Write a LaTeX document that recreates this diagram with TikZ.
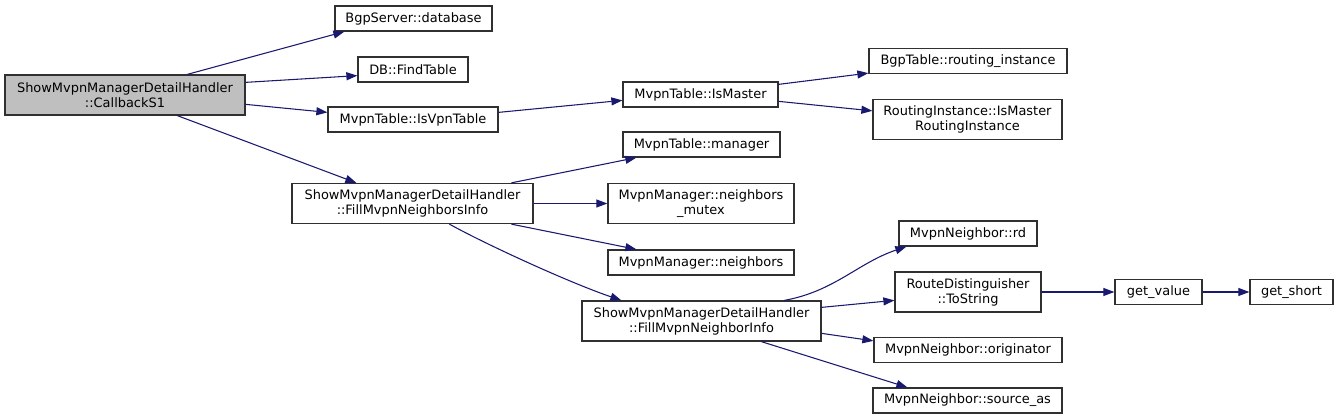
\documentclass[tikz,border=0pt]{standalone}
\usepackage{fontspec}
\setmainfont{DejaVu Sans}
\usetikzlibrary{arrows.meta,calc}
\definecolor{edgeblue}{RGB}{25,25,112}
\definecolor{boxline}{RGB}{48,48,48}
\definecolor{boxgray}{RGB}{191,191,191}
\tikzset{
  fn/.style={draw=boxline, line width=0.95pt, fill=white, inner sep=0pt, align=center,
    font=\fontsize{9.7}{11.3}\selectfont, minimum height=18.75pt},
  fn2/.style={fn, minimum height=30pt},
  cur/.style={fn2, fill=boxgray},
  call/.style={draw=edgeblue, line width=0.8pt, -{Triangle[length=8.25pt,width=6pt]}}
}
\begin{document}
\begin{tikzpicture}[x=0.75pt,y=-0.75pt]
\useasboundingbox (0,0) rectangle (1339,420);
\node[cur, minimum width=180pt] (cb) at (125,95) {ShowMvpnManagerDetailHandler\\::CallbackS1};
\node[fn, minimum width=117.75pt] (bgpdb) at (413.5,18.5) {BgpServer::database};
\node[fn, minimum width=82.5pt] (dbft) at (413,69.5) {DB::FindTable};
\node[fn, minimum width=127.5pt] (isvpn) at (413,119.5) {MvpnTable::IsVpnTable};
\node[fn, minimum width=116.25pt] (ismaster) at (700.5,94.5) {MvpnTable::IsMaster};
\node[fn, minimum width=148.5pt] (bgprt) at (968,61) {BgpTable::routing\_instance};
\node[fn2, minimum width=141.75pt] (rims) at (967.5,119.5) {RoutingInstance::IsMaster\\RoutingInstance};
\node[fn, minimum width=117.75pt] (manager) at (701.5,144.5) {MvpnTable::manager};
\node[fn2, minimum width=180.75pt] (fnis) at (412.5,203.5) {ShowMvpnManagerDetailHandler\\::FillMvpnNeighborsInfo};
\node[fn2, minimum width=139.5pt] (mutex) at (701,203.5) {MvpnManager::neighbors\\\_mutex};
\node[fn, minimum width=139.5pt] (nbrs) at (701,262.5) {MvpnManager::neighbors};
\node[fn, minimum width=103.5pt] (rd) at (968,233.5) {MvpnNeighbor::rd};
\node[fn2, minimum width=109.5pt] (tostr) at (968,292) {RouteDistinguisher\\::ToString};
\node[fn, minimum width=65.25pt] (getval) at (1158.5,292) {get\_value};
\node[fn, minimum width=62.25pt] (getshort) at (1291.5,292) {get\_short};
\node[fn2, minimum width=179.25pt] (fni) at (701.5,321) {ShowMvpnManagerDetailHandler\\::FillMvpnNeighborInfo};
\node[fn, minimum width=141pt] (orig) at (968,350) {MvpnNeighbor::originator};
\node[fn, minimum width=141.75pt] (srcas) at (967.5,400.5) {MvpnNeighbor::source\_as};

\draw[call] ($(cb.north west)+(183,0)$) -- ($(bgpdb.south west)+(10,0)$);
\draw[call] ($(cb.north east)+(0,8)$) -- ($(dbft.south west)+(0,-7)$);
\draw[call] ($(cb.north east)+(0,30)$) -- ($(isvpn.north west)+(0,6)$);
\draw[call] ($(cb.south west)+(173,0)$) -- ($(fnis.north west)+(65,0)$);
\draw[call] ($(isvpn.north east)+(0,6)$) -- ($(ismaster.north west)+(0,19)$);
\draw[call] ($(ismaster.north east)+(0,3)$) -- ($(bgprt.south west)+(0,-1)$);
\draw[call] ($(ismaster.north east)+(0,20)$) -- ($(rims.north west)+(0,12)$);
\draw[call] ($(fnis.north west)+(220,0)$) -- ($(manager.south west)+(14,0)$);
\draw[call] (fnis.east) -- (mutex.west);
\draw[call] ($(fnis.south west)+(220,0)$) -- ($(nbrs.north west)+(29,0)$);
\draw[call] ($(fnis.south west)+(158,0)$) .. controls +(40,22) and +(-50,-17) .. ($(fni.north west)+(40,0)$);
\draw[call] ($(fni.north west)+(203,0)$) .. controls +(50,-9) and +(-48,16) .. ($(rd.south west)+(8,0)$);
\draw[call] ($(fni.north east)+(0,7)$) -- ($(tostr.north west)+(0,29)$);
\draw[call] ($(fni.north east)+(0,33)$) -- ($(orig.north west)+(0,4)$);
\draw[call] ($(fni.south west)+(180,0)$) -- ($(srcas.north west)+(35,0)$);
\draw[call] (tostr.east) -- (getval.west);
\draw[call] (getval.east) -- (getshort.west);
\end{tikzpicture}
\end{document}
